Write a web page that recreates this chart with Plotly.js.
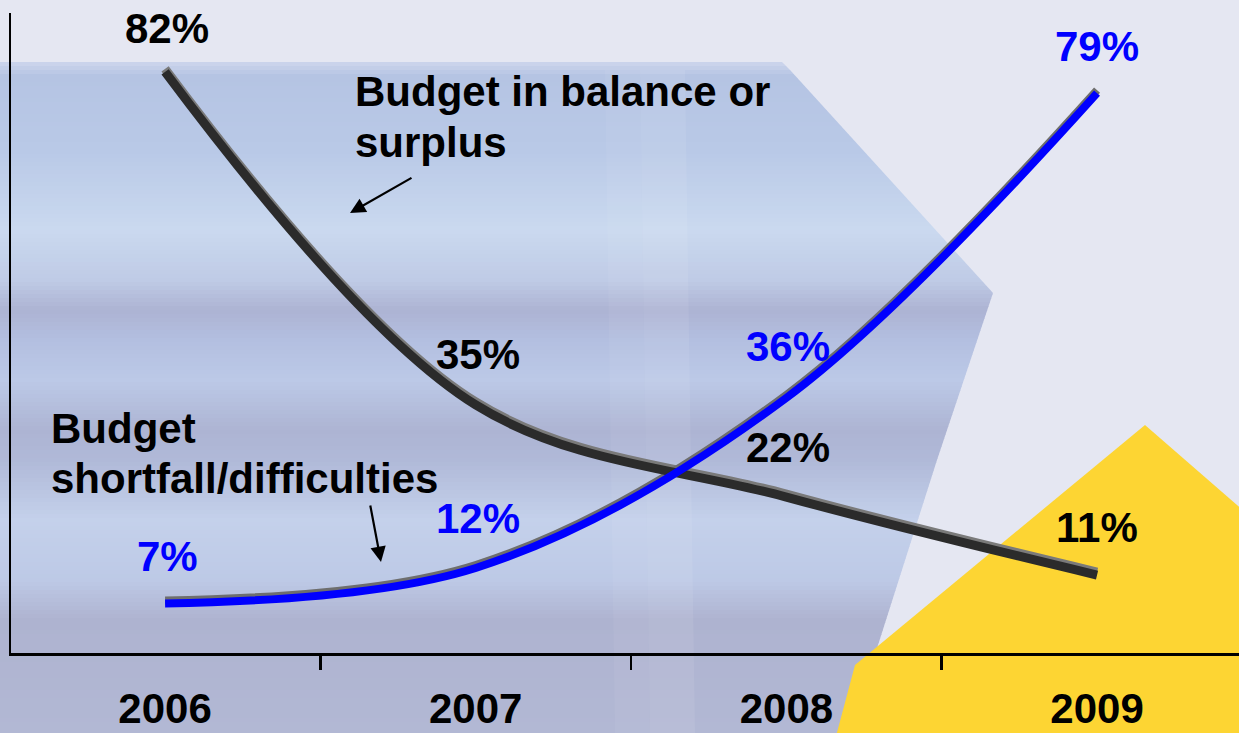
<!DOCTYPE html>
<html>
<head>
<meta charset="utf-8">
<script src="https://cdn.plot.ly/plotly-3.0.1.min.js"></script>
<style>
  html, body { margin: 0; padding: 0; background: #e5e7f2; }
  #chart { width: 1239px; height: 733px; }
</style>
</head>
<body>
<div id="chart"></div>
<script>
// ---- data ----
const years = ['2006', '2007', '2008', '2009'];
const balance = [82, 35, 22, 11];
const shortfall = [7, 12, 36, 79];
const balanceLabels = ['82%', '35%', '22%', '11%'];
const shortfallLabels = ['7%', '12%', '36%', '79%'];
const balanceName = ['Budget in balance or', 'surplus'];
const shortfallName = ['Budget', 'shortfall/difficulties'];

// ---- styling ----
const W = 1239, H = 733;
const M = { l: 11, r: 0, t: 13, b: 80 };
const PW = W - M.l - M.r, PH = H - M.t - M.b;
const YMAX = 90.3;
const px = x => (x - M.l) / PW;
const py = y => (H - M.b - y) / PH;
const FONT = '"Liberation Sans", Arial, sans-serif';
const shadowShift = 3 * YMAX / PH;

const balLabelShift = [[2, 43], [2, 50], [2, 50], [0, 48]];
const shLabelShift = [[2, 47], [2, 49], [2, 51], [0, 47]];

// background bands (pixel y, colour)
const stops = [
  [62, [205, 213, 236]], [76, [181, 196, 227]], [150, [185, 201, 231]],
  [230, [202, 217, 239]], [280, [191, 203, 230]], [310, [173, 179, 211]],
  [340, [179, 191, 224]], [380, [188, 201, 231]], [430, [173, 180, 211]],
  [460, [176, 185, 216]], [520, [196, 209, 235]], [580, [189, 201, 230]],
  [620, [174, 179, 208]], [733, [178, 184, 212]]
];
function colAt(y) {
  for (let i = 0; i < stops.length - 1; i++) {
    const [y0, c0] = stops[i], [y1, c1] = stops[i + 1];
    if (y >= y0 && y <= y1) {
      const t = (y - y0) / (y1 - y0);
      return 'rgb(' + c0.map((v, k) => Math.round(v + (c1[k] - v) * t)).join(',') + ')';
    }
  }
  return 'rgb(178,184,212)';
}
// right boundary of blue region (chevron)
const bnd = [[62, 782], [70, 790], [293, 993], [460, 937], [733, 850]];
function bx(y) {
  for (let i = 0; i < bnd.length - 1; i++) {
    const [y0, x0] = bnd[i], [y1, x1] = bnd[i + 1];
    if (y >= y0 && y <= y1) return x0 + (x1 - x0) * (y - y0) / (y1 - y0);
  }
  return 850;
}
const shapes = [];
const step = 4;
for (let y = 62; y < 733; y += step) {
  const y1 = Math.min(733, y + step + 0.6);
  const pts = [[-5, y], [bx(y), y]];
  bnd.forEach(([yy, xx]) => { if (yy > y && yy < y1) pts.push([xx, yy]); });
  pts.push([bx(y1), y1], [-5, y1]);
  const d = 'M' + pts.map(p => px(p[0]).toFixed(5) + ',' + py(p[1]).toFixed(5)).join('L') + 'Z';
  shapes.push({ type: 'path', xref: 'paper', yref: 'paper', path: d, layer: 'below',
    fillcolor: colAt(y + step / 2), line: { width: 0 } });
}
function poly(points, fill) {
  const d = 'M' + points.map(p => px(p[0]).toFixed(5) + ',' + py(p[1]).toFixed(5)).join('L') + 'Z';
  shapes.push({ type: 'path', xref: 'paper', yref: 'paper', path: d, layer: 'below',
    fillcolor: fill, line: { width: 0 } });
}
// faint light arch strip in blue region
poly([[605, 70], [640, 70], [650, 733], [615, 733]], 'rgba(255,255,255,0.05)');
poly([[640, 70], [685, 70], [695, 733], [650, 733]], 'rgba(255,255,255,0.08)');
// yellow shape
poly([[835, 740], [855, 665], [1145, 425], [1245, 512], [1245, 740]], '#fdd533');

// ---- traces (shadows on y, main lines on overlaying y2) ----
const traces = [
  { x: years, y: balance, type: 'scatter', mode: 'lines', yaxis: 'y',
    line: { color: '#7a7a7a', width: 9, shape: 'spline', smoothing: 1 }, hoverinfo: 'skip' },
  { x: years, y: shortfall, type: 'scatter', mode: 'lines', yaxis: 'y',
    line: { color: '#6e6e6e', width: 8, shape: 'spline', smoothing: 1 }, hoverinfo: 'skip' },
  { x: years, y: balance, type: 'scatter', mode: 'lines', yaxis: 'y2', name: balanceName.join(' '),
    line: { color: '#2b2b2b', width: 9, shape: 'spline', smoothing: 1 } },
  { x: years, y: shortfall, type: 'scatter', mode: 'lines', yaxis: 'y2', name: shortfallName.join(' '),
    line: { color: '#0000ff', width: 8, shape: 'spline', smoothing: 1 } }
];

// ---- annotations ----
const annotations = [];
const lblFont = c => ({ family: FONT, size: 42, color: c, weight: 'bold' });
years.forEach((yr, i) => {
  annotations.push({ x: i, y: balance[i], xref: 'x', yref: 'y2', text: balanceLabels[i],
    showarrow: false, xanchor: 'center', yanchor: 'middle',
    xshift: balLabelShift[i][0], yshift: balLabelShift[i][1], font: lblFont('#000000') });
  annotations.push({ x: i, y: shortfall[i], xref: 'x', yref: 'y2', text: shortfallLabels[i],
    showarrow: false, xanchor: 'center', yanchor: 'middle',
    xshift: shLabelShift[i][0], yshift: shLabelShift[i][1], font: lblFont('#0000ff') });
});
// series name labels
[[balanceName[0], 353, 92], [balanceName[1], 353, 142],
 [shortfallName[0], 49, 428], [shortfallName[1], 49, 478]].forEach(([t, x, y]) => {
  annotations.push({ x: px(x), y: py(y), xref: 'paper', yref: 'paper', text: t,
    showarrow: false, xanchor: 'left', yanchor: 'middle', font: lblFont('#000000') });
});
// arrows
annotations.push({ x: px(350), y: py(213), xref: 'paper', yref: 'paper', text: '',
  showarrow: true, arrowhead: 2, arrowsize: 1.4, arrowwidth: 2.2, arrowcolor: '#000',
  ax: 63, ay: -36 });
annotations.push({ x: px(381), y: py(562), xref: 'paper', yref: 'paper', text: '',
  showarrow: true, arrowhead: 2, arrowsize: 1.4, arrowwidth: 2.2, arrowcolor: '#000',
  ax: -11, ay: -58 });

const layout = {
  width: W, height: H,
  margin: M,
  paper_bgcolor: '#e5e7f2',
  plot_bgcolor: 'rgba(0,0,0,0)',
  showlegend: false,
  shapes: shapes,
  annotations: annotations,
  xaxis: {
    type: 'category', range: [-0.496, 3.457],
    showline: true, linecolor: '#000', linewidth: 2.5,
    ticks: 'outside', tickson: 'boundaries', ticklen: 14, tickwidth: 2.5, tickcolor: '#000',
    showgrid: false, zeroline: false,
    tickfont: { family: FONT, size: 42, color: '#000', weight: 'bold' },
    ticklabelstandoff: 17
  },
  yaxis: {
    range: [-shadowShift, YMAX - shadowShift], showline: true, linecolor: '#000', linewidth: 2,
    ticks: '', showticklabels: false, showgrid: false, zeroline: false
  },
  yaxis2: {
    range: [0, YMAX], overlaying: 'y', visible: false,
    showgrid: false, zeroline: false
  }
};

Plotly.newPlot('chart', traces, layout, { displayModeBar: false, staticPlot: true });
</script>
</body>
</html>
